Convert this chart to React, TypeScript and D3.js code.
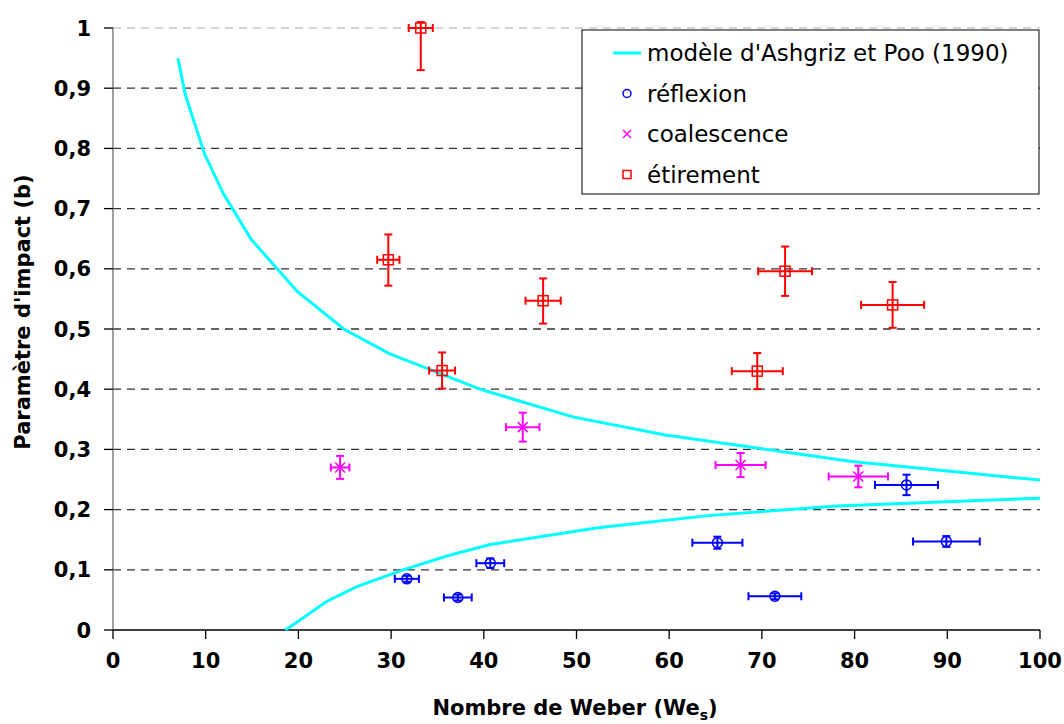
import React from "react";
import * as d3 from "d3";

// ---- data ----
const reflexionWe = [31.7, 37.2, 40.7, 65.2, 71.4, 85.6, 89.9];
const reflexionB = [0.085, 0.054, 0.111, 0.145, 0.056, 0.241, 0.147];
const reflexionXErr = [1.3, 1.5, 1.5, 2.7, 2.85, 3.4, 3.6];
const reflexionYErr = [0.005, 0.005, 0.008, 0.01, 0.005, 0.017, 0.009];

const coalescenceWe = [24.5, 44.2, 67.7, 80.4];
const coalescenceB = [0.27, 0.337, 0.274, 0.255];
const coalescenceXErr = [1.0, 1.8, 2.7, 3.2];
const coalescenceYErr = [0.019, 0.024, 0.02, 0.018];

const etirementWe = [33.2, 29.7, 35.5, 46.4, 72.5, 69.5, 84.1];
const etirementB = [1.0, 0.615, 0.431, 0.547, 0.596, 0.43, 0.54];
const etirementXErr = [1.3, 1.2, 1.4, 1.9, 2.9, 2.75, 3.4];
const etirementYErrPlus = [0.01, 0.042, 0.03, 0.037, 0.041, 0.03, 0.038];
const etirementYErrMinus = [0.07, 0.043, 0.03, 0.038, 0.041, 0.03, 0.038];

const modelUpperWe = [7, 7.8, 9.9, 11.9, 14.9, 19.9, 24.9, 29.8, 39.8, 49.6, 59.6, 79.7, 100];
const modelUpperB = [0.95, 0.889, 0.79, 0.725, 0.649, 0.562, 0.5, 0.459, 0.399, 0.354, 0.324, 0.28, 0.249];
const modelLowerWe = [18.6, 20.5, 23.0, 26.3, 31.3, 36.0, 40.7, 52.3, 64.2, 78.1, 100];
const modelLowerB = [0, 0.02, 0.047, 0.072, 0.1, 0.123, 0.142, 0.17, 0.19, 0.206, 0.219];

const xTicks = [0, 10, 20, 30, 40, 50, 60, 70, 80, 90, 100];
const yTicks = [0, 0.1, 0.2, 0.3, 0.4, 0.5, 0.6, 0.7, 0.8, 0.9, 1];

const legendLabels = ["modèle d'Ashgriz et Poo (1990)", "réflexion", "coalescence", "étirement"];

const CYAN = "#00ffff";
const BLUE = "#0000ff";
const MAGENTA = "#ff00ff";
const RED = "#ff0000";
const FONT = "'DejaVu Sans', Verdana, sans-serif";

export default function App() {
  const W = 1064, H = 724;
  const x = d3.scaleLinear().domain([0, 100]).range([113, 1040]);
  const y = d3.scaleLinear().domain([0, 1]).range([630, 28]);
  const line = d3.line<[number, number]>().x(d => x(d[0])).y(d => y(d[1]));
  const upper = modelUpperWe.map((w, i) => [w, modelUpperB[i]] as [number, number]);
  const lower = modelLowerWe.map((w, i) => [w, modelLowerB[i]] as [number, number]);
  const fmt = (v: number) => (v === 0 ? "0" : v === 1 ? "1" : v.toFixed(1).replace(".", ","));

  const errBars = (we: number[], b: number[], xe: number[], yePlus: number[], yeMinus: number[], color: string, key: string) =>
    we.map((w, i) => {
      const cx = x(w), cy = y(b[i]);
      const x1 = x(w - xe[i]), x2 = x(w + xe[i]);
      const y1 = y(b[i] + yePlus[i]), y2 = y(b[i] - yeMinus[i]);
      const c = 4;
      return (
        <g key={key + i} stroke={color} strokeWidth={2} fill="none">
          <line x1={x1} y1={cy} x2={x2} y2={cy} />
          <line x1={x1} y1={cy - c} x2={x1} y2={cy + c} />
          <line x1={x2} y1={cy - c} x2={x2} y2={cy + c} />
          <line x1={cx} y1={y1} x2={cx} y2={y2} />
          <line x1={cx - c} y1={y1} x2={cx + c} y2={y1} />
          <line x1={cx - c} y1={y2} x2={cx + c} y2={y2} />
        </g>
      );
    });

  const legendX = 582, legendY = 30;
  return (
    <svg width={W} height={H} style={{ position: "absolute", left: 0, top: 0, background: "#fff" }} fontFamily={FONT}>
      <rect x={0} y={0} width={W} height={H} fill="#fff" />
      {/* gridlines */}
      {yTicks.filter(t => t > 0).map(t => (
        <line key={"g" + t} x1={x(0)} x2={x(100)} y1={y(t)} y2={y(t)}
          stroke={t === 1 ? "#c8c8c8" : "#333"} strokeWidth={1.3} strokeDasharray="8,6" />
      ))}
      {/* axes */}
      <line x1={x(0)} x2={x(0)} y1={y(1)} y2={y(0)} stroke="#808080" strokeWidth={1.5} />
      <line x1={x(0)} x2={x(100)} y1={y(0)} y2={y(0)} stroke="#000" strokeWidth={1.5} />
      {yTicks.map(t => (
        <g key={"yt" + t}>
          <line x1={x(0) - 9} x2={x(0)} y1={y(t)} y2={y(t)} stroke="#000" strokeWidth={1.3} />
          <text x={91} y={y(t)} dy="0.36em" textAnchor="end" fontSize={21} fontWeight="bold">{fmt(t)}</text>
        </g>
      ))}
      {xTicks.map(t => (
        <g key={"xt" + t}>
          <line x1={x(t)} x2={x(t)} y1={y(0)} y2={y(0) + 9} stroke="#000" strokeWidth={1.3} />
          <text x={x(t)} y={668} textAnchor="middle" fontSize={21} fontWeight="bold">{t}</text>
        </g>
      ))}
      {/* axis titles */}
      <text x={575} y={715} textAnchor="middle" fontSize={21} fontWeight="bold">
        Nombre de Weber (We<tspan fontSize={14} dy={5}>s</tspan><tspan dy={-5}>)</tspan>
      </text>
      <text transform="translate(30,312) rotate(-90)" textAnchor="middle" fontSize={21} fontWeight="bold">
        Paramètre d'impact (b)
      </text>
      {/* model curves */}
      <path d={line(upper) || ""} fill="none" stroke={CYAN} strokeWidth={3} />
      <path d={line(lower) || ""} fill="none" stroke={CYAN} strokeWidth={3} />
      {/* error bars */}
      {errBars(reflexionWe, reflexionB, reflexionXErr, reflexionYErr, reflexionYErr, BLUE, "r")}
      {errBars(coalescenceWe, coalescenceB, coalescenceXErr, coalescenceYErr, coalescenceYErr, MAGENTA, "c")}
      {errBars(etirementWe, etirementB, etirementXErr, etirementYErrPlus, etirementYErrMinus, RED, "e")}
      {/* markers */}
      {reflexionWe.map((w, i) => (
        <circle key={"rm" + i} cx={x(w)} cy={y(reflexionB[i])} r={5} fill="none" stroke={BLUE} strokeWidth={1.5} />
      ))}
      {coalescenceWe.map((w, i) => {
        const cx = x(w), cy = y(coalescenceB[i]), s = 5;
        return (
          <path key={"cm" + i} d={`M${cx - s},${cy - s}L${cx + s},${cy + s}M${cx - s},${cy + s}L${cx + s},${cy - s}`}
            stroke={MAGENTA} strokeWidth={1.5} />
        );
      })}
      {etirementWe.map((w, i) => (
        <rect key={"em" + i} x={x(w) - 5} y={y(etirementB[i]) - 5} width={10} height={10} fill="none" stroke={RED} strokeWidth={1.5} />
      ))}
      {/* legend */}
      <rect x={legendX} y={legendY} width={457} height={164} fill="#fff" stroke="#000" strokeWidth={1} />
      {legendLabels.map((lab, i) => {
        const cy = legendY + 23 + i * 40.5;
        const mx = 627;
        return (
          <g key={"lg" + i}>
            {i === 0 && <line x1={613} x2={641} y1={cy} y2={cy} stroke={CYAN} strokeWidth={3} />}
            {i === 1 && <circle cx={mx} cy={cy} r={4} fill="none" stroke={BLUE} strokeWidth={1.5} />}
            {i === 2 && <path d={`M${mx - 4},${cy - 4}L${mx + 4},${cy + 4}M${mx - 4},${cy + 4}L${mx + 4},${cy - 4}`} stroke={MAGENTA} strokeWidth={1.5} />}
            {i === 3 && <rect x={mx - 4} y={cy - 4} width={8} height={8} fill="none" stroke={RED} strokeWidth={1.5} />}
            <text x={647} y={cy} dy="0.36em" fontSize={23}>{lab}</text>
          </g>
        );
      })}
    </svg>
  );
}
